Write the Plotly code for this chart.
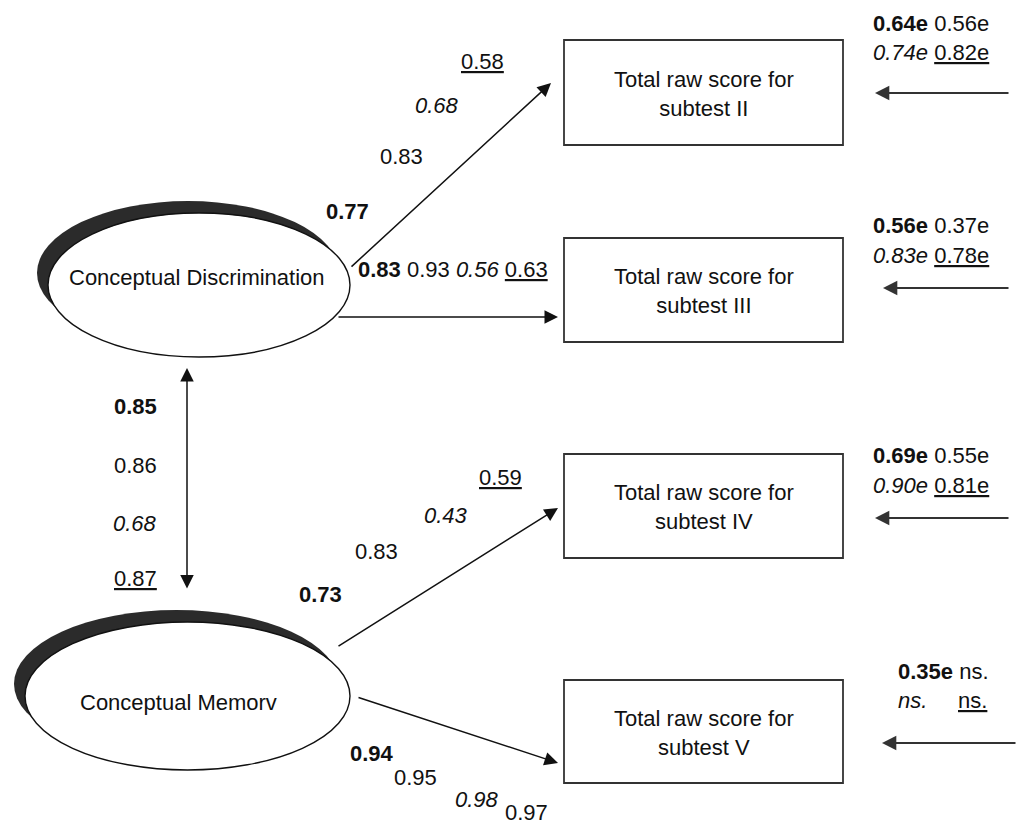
import plotly.graph_objects as go

# ---------------- data ----------------
latent_names = ["Conceptual Discrimination", "Conceptual Memorv"]
indicator_names = [
    "Total raw score for<br>subtest II",
    "Total raw score for<br>subtest III",
    "Total raw score for<br>subtest IV",
    "Total raw score for<br>subtest V",
]
# factor loadings for each path (four estimates: bold, plain, italic, underlined)
loading_bold = ["0.77", "0.83", "0.73", "0.94"]
loading_plain = ["0.83", "0.93", "0.83", "0.95"]
loading_italic = ["0.68", "0.56", "0.43", "0.98"]
loading_under = ["0.58", "0.63", "0.59", "0.97"]
# error terms for each indicator
error_bold = ["0.64e", "0.56e", "0.69e", "0.35e"]
error_plain = ["0.56e", "0.37e", "0.55e", "ns."]
error_italic = ["0.74e", "0.83e", "0.90e", "ns."]
error_under = ["0.82e", "0.78e", "0.81e", "ns."]
# latent correlation estimates
corr_values = ["0.85", "0.86", "0.68", "0.87"]

# ---------------- layout (positions / styles) ----------------
W, H = 1019, 825
FONT = "Liberation Sans, Arial, sans-serif"
FS = 22
INK = "#111111"

latent_geom = [(48, 213, 350, 357), (25, 622, 350, 770)]
latent_text_pos = [(197, 277), (178, 702)]
shadow_dx, shadow_dy = -11, -12
box_geom = [(564, 40, 843, 145), (564, 238, 843, 342), (564, 454, 843, 558), (564, 680, 843, 783)]
path_tail = [(350, 268), (337, 317), (337, 647), (357, 697)]
path_head = [(551, 83), (558, 317), (558, 508), (558, 763)]
err_tail = [(1010, 93), (1010, 288), (1010, 518), (1017, 743)]
err_head_x = [875, 883, 875, 882]
corr_x, corr_y0, corr_y1 = 187, 368, 590

# label positions per path: bold, plain, italic, underlined
lab_pos = [
    [(347, 211), (401, 156), (437, 105), (482, 61)],
    None,  # path 2 labels are set on one line
    [(320, 594), (376, 551), (446, 515), (500, 477)],
    [(372, 753), (415, 777), (477, 799), (526, 812)],
]
row2_pos = (453, 269)
corr_label_x = 135
corr_label_y = [406, 465, 523, 578]
err_label_x = [871, 871, 871, 896]
err_label_y = [(23, 52), (225, 255), (455, 485), (671, 700)]
ns_under_x = 956

fig = go.Figure()
fig.add_trace(go.Scatter(x=[0, W], y=[0, H], mode="markers",
                         marker=dict(opacity=0), hoverinfo="skip", showlegend=False))

shapes = []
# latent variables: shadow + white ellipse
for (x0, y0, x1, y1) in latent_geom:
    shapes.append(dict(type="circle", xref="x", yref="y",
                       x0=x0 + shadow_dx, y0=y0 + shadow_dy, x1=x1 + shadow_dx, y1=y1 + shadow_dy,
                       fillcolor="#2b2b2b", line=dict(width=0), layer="above"))
    shapes.append(dict(type="circle", xref="x", yref="y", x0=x0, y0=y0, x1=x1, y1=y1,
                       fillcolor="white", line=dict(color=INK, width=1.4), layer="above"))
# observed indicators
for (x0, y0, x1, y1) in box_geom:
    shapes.append(dict(type="rect", xref="x", yref="y", x0=x0, y0=y0, x1=x1, y1=y1,
                       fillcolor="white", line=dict(color="#333333", width=1.8), layer="above"))

ann = []


def txt(x, y, s, anchor="center", size=FS):
    ann.append(dict(x=x, y=y, xref="x", yref="y", text=s, showarrow=False,
                    xanchor=anchor, yanchor="middle",
                    font=dict(family=FONT, size=size, color=INK)))


def arrow(tail, head, both=False, color=INK, width=1.5, size=1.8):
    d = dict(x=head[0], y=head[1], ax=tail[0], ay=tail[1], xref="x", yref="y",
             axref="x", ayref="y", text="", showarrow=True, arrowhead=2,
             arrowsize=size, arrowwidth=width, arrowcolor=color, standoff=0, startstandoff=0)
    if both:
        d.update(arrowside="end+start", startarrowhead=2, startarrowsize=size)
    ann.append(d)


for name, (x, y) in zip(latent_names, latent_text_pos):
    txt(x, y, name)
for name, (x0, y0, x1, y1) in zip(indicator_names, box_geom):
    txt((x0 + x1) / 2, (y0 + y1) / 2 + 1, name)

for i in range(4):
    arrow(path_tail[i], path_head[i])
    arrow(err_tail[i], (err_head_x[i], err_tail[i][1]), color="#333333", width=2.2, size=1.3)
arrow((corr_x, corr_y1), (corr_x, corr_y0), both=True)

# loadings
for i in range(4):
    if lab_pos[i] is None:
        txt(row2_pos[0], row2_pos[1],
            f"<b>{loading_bold[i]}</b> {loading_plain[i]} <i>{loading_italic[i]}</i> <u>{loading_under[i]}</u>")
        continue
    pb, pp, pi, pu = lab_pos[i]
    txt(*pb, f"<b>{loading_bold[i]}</b>")
    txt(*pp, loading_plain[i])
    txt(*pi, f"<i>{loading_italic[i]}</i>")
    if i == 3:
        txt(*pu, loading_under[i])
    else:
        txt(*pu, f"<u>{loading_under[i]}</u>")

# correlation
styles = ["<b>{}</b>", "{}", "<i>{}</i>", "<u>{}</u>"]
for v, y, st in zip(corr_values, corr_label_y, styles):
    txt(corr_label_x, y, st.format(v))

# error terms
for i in range(4):
    y1, y2 = err_label_y[i]
    x = err_label_x[i]
    txt(x, y1, f"<b>{error_bold[i]}</b> {error_plain[i]}", anchor="left")
    if i == 3:
        txt(x, y2, f"<i>{error_italic[i]}</i>", anchor="left")
        txt(ns_under_x, y2, f"<u>{error_under[i]}</u>", anchor="left")
    else:
        txt(x, y2, f"<i>{error_italic[i]}</i> <u>{error_under[i]}</u>", anchor="left")

fig.update_layout(
    width=W, height=H, margin=dict(l=0, r=0, t=0, b=0),
    paper_bgcolor="white", plot_bgcolor="white",
    xaxis=dict(range=[0, W], visible=False, fixedrange=True),
    yaxis=dict(range=[H, 0], visible=False, fixedrange=True),
    shapes=shapes, annotations=ann, showlegend=False,
)
fig.write_html(
    "out.html",
    config={"displayModeBar": False, "staticPlot": True},
    post_script="document.body.style.margin='0';document.body.style.overflow='hidden';",
)
